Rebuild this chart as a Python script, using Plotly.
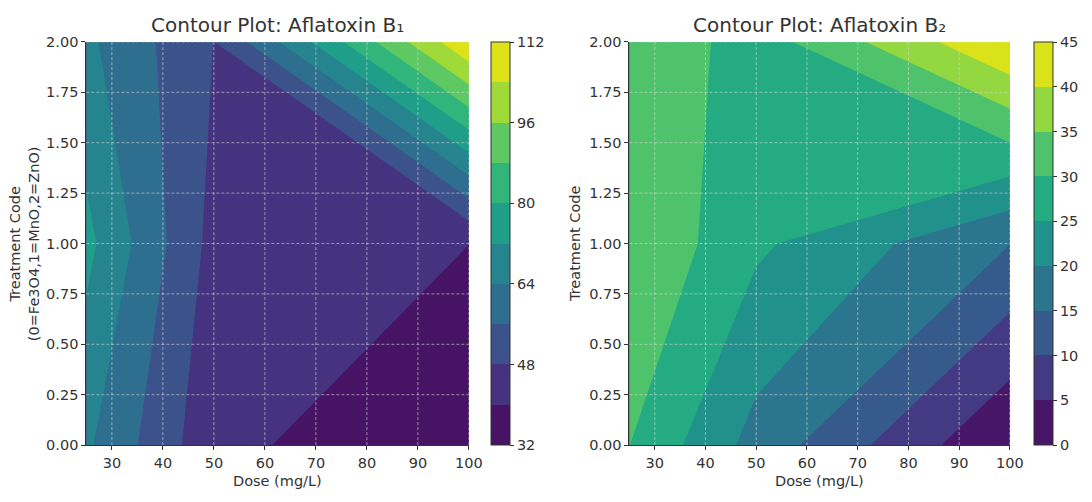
import plotly.graph_objects as go

# ---------------- data ----------------
doses = [25, 50, 100]                 # mg/L
treatment_codes = [0, 1, 2]           # 0=Fe3O4, 1=MnO, 2=ZnO
# rows = treatment code (0,1,2), columns = dose (25,50,100)
afb1 = [
    [65.3, 42.2, 32.6],
    [74.3, 45.3, 40.05],
    [65.7, 47.9, 111.0],
]
afb2 = [
    [30.05, 18.1, 0.15],
    [34.8, 25.9, 15.1],
    [34.5, 27.5, 44.9],
]
b1_levels = dict(start=32, end=112, size=8)
b2_levels = dict(start=0, end=45, size=5)
b1_cbar_ticks = [32, 48, 64, 80, 96, 112]
b2_cbar_ticks = [0, 5, 10, 15, 20, 25, 30, 35, 40, 45]
x_ticks = [30, 40, 50, 60, 70, 80, 90, 100]
y_ticks = [0.0, 0.25, 0.5, 0.75, 1.0, 1.25, 1.5, 1.75, 2.0]
titles = ["Contour Plot: Aflatoxin B\u2081", "Contour Plot: Aflatoxin B\u2082"]
x_title = "Dose (mg/L)"
y_titles = ["Treatment Code<br>(0=Fe3O4,1=MnO,2=ZnO)", "Treatment Code"]

# viridis colours at band midpoints (matplotlib contourf style)
b1_band_colors = ["#471365", "#46337f", "#3b528b", "#2e6e8e", "#25848e",
                  "#1f9e89", "#31b57b", "#5ec962", "#a0da39", "#dde318"]
b2_band_colors = ["#481668", "#443983", "#375a8c", "#2b768e", "#21918c",
                  "#25ab82", "#4ec36b", "#93d741", "#dae319"]

# ---------------- style ----------------
W, H = 1092, 502
FONT = "DejaVu Sans"
TXT = "#333333"
plot_top, plot_bot = 35, 451.5
left_x = (87.5, 475.0)
right_x = (637.6, 1023.0)
cbar_left = [497, 1047]
ydom = [(H - plot_bot) / H, (H - plot_top) / H]


def contour_scale(colors):
    # plotly maps fill bands (incl. below-start / above-end) to j/(n+1)
    ext = [colors[0]] + colors + [colors[-1]]
    m = len(ext) - 1
    cs = []
    for j, c in enumerate(ext):
        lo = max(0.0, (j - 0.5) / m)
        hi = min(1.0, (j + 0.5) / m)
        cs.append([lo, c])
        cs.append([hi, c])
    return cs


def bar_scale(colors):
    n = len(colors)
    cs = []
    for k, c in enumerate(colors):
        cs.append([k / n, c])
        cs.append([(k + 1) / n, c])
    return cs


fig = go.Figure()

panels = [
    (afb1, b1_levels, b1_band_colors, b1_cbar_ticks, "x", "y", left_x, cbar_left[0]),
    (afb2, b2_levels, b2_band_colors, b2_cbar_ticks, "x2", "y2", right_x, cbar_left[1]),
]

for z, lv, cols, cticks, xa, ya, xr, cbx in panels:
    fig.add_trace(go.Contour(
        x=doses, y=treatment_codes, z=z,
        xaxis=xa, yaxis=ya,
        autocontour=False,
        contours=dict(start=lv["start"], end=lv["end"], size=lv["size"],
                      coloring="fill", showlines=False),
        line=dict(width=0, smoothing=0),
        colorscale=contour_scale(cols),
        showscale=False,
        hoverinfo="skip",
    ))
    fig.add_trace(go.Scatter(
        x=[None], y=[None], mode="markers", xaxis=xa, yaxis=ya,
        showlegend=False, hoverinfo="skip",
        marker=dict(color=[lv["start"]], cmin=lv["start"], cmax=lv["end"],
                    colorscale=bar_scale(cols), showscale=True,
                    colorbar=dict(
                        x=cbx / W, xanchor="left", xpad=0,
                        y=ydom[0], yanchor="bottom", ypad=0,
                        len=ydom[1] - ydom[0], lenmode="fraction",
                        thickness=19, thicknessmode="pixels",
                        outlinewidth=1, outlinecolor=TXT,
                        tickmode="array", tickvals=cticks,
                        ticks="outside", ticklen=4, tickcolor=TXT,
                        tickfont=dict(family=FONT, size=14.5, color=TXT),
                    )),
    ))

axis_common = dict(
    ticks="outside", ticklen=4, tickwidth=1, tickcolor=TXT,
    showline=True, linecolor=TXT, linewidth=1.2, mirror=False,
    showgrid=False, zeroline=False,
    tickfont=dict(family=FONT, size=14.5, color=TXT),
)

fig.update_layout(
    width=W, height=H, autosize=False,
    margin=dict(l=0, r=0, t=0, b=0),
    paper_bgcolor="white", plot_bgcolor="white",
    showlegend=False,
    font=dict(family=FONT, color=TXT),
    xaxis=dict(domain=[left_x[0] / W, left_x[1] / W], range=[25, 100],
               tickvals=x_ticks, anchor="y", **axis_common),
    yaxis=dict(domain=ydom, range=[0, 2], tickvals=y_ticks, tickformat=".2f",
               anchor="x", **axis_common),
    xaxis2=dict(domain=[right_x[0] / W, right_x[1] / W], range=[25, 100],
                tickvals=x_ticks, anchor="y2", **axis_common),
    yaxis2=dict(domain=ydom, range=[0, 2], tickvals=y_ticks, tickformat=".2f",
                anchor="x2", **axis_common),
)

# dashed grid drawn above the filled contours
grid_line = dict(color="rgba(215,215,215,0.6)", width=1, dash="3px,2px")
for xa, ya in [("x", "y"), ("x2", "y2")]:
    for xt in x_ticks:
        fig.add_shape(type="line", xref=xa, yref=f"{ya} domain",
                      x0=xt, x1=xt, y0=0, y1=1, line=grid_line, layer="above")
    for yt in y_ticks[1:]:
        fig.add_shape(type="line", xref=f"{xa} domain", yref=ya,
                      x0=0, x1=1, y0=yt, y1=yt, line=grid_line, layer="above")

# titles and axis labels
for i, xr in enumerate([left_x, right_x]):
    cx = (xr[0] + xr[1]) / 2 / W
    fig.add_annotation(text=titles[i], x=cx, y=(H - 18) / H, xref="paper", yref="paper",
                       xanchor="center", yanchor="middle", showarrow=False,
                       font=dict(family=FONT, size=20, color=TXT))
    fig.add_annotation(text=x_title, x=cx, y=(H - 489) / H, xref="paper", yref="paper",
                       xanchor="center", yanchor="middle", showarrow=False,
                       font=dict(family=FONT, size=14.5, color=TXT))

ymid = (H - (plot_top + plot_bot) / 2) / H
fig.add_annotation(text=y_titles[0], x=25 / W, y=ymid, xref="paper", yref="paper",
                   xanchor="center", yanchor="middle", textangle=-90, showarrow=False,
                   font=dict(family=FONT, size=14.5, color=TXT))
fig.add_annotation(text=y_titles[1], x=583 / W, y=ymid, xref="paper", yref="paper",
                   xanchor="center", yanchor="middle", textangle=-90, showarrow=False,
                   font=dict(family=FONT, size=14.5, color=TXT))

fig.write_html(
    "out.html",
    config={"responsive": False, "displayModeBar": False},
    post_script="document.body.style.margin='0';document.body.style.overflow='hidden';",
)
